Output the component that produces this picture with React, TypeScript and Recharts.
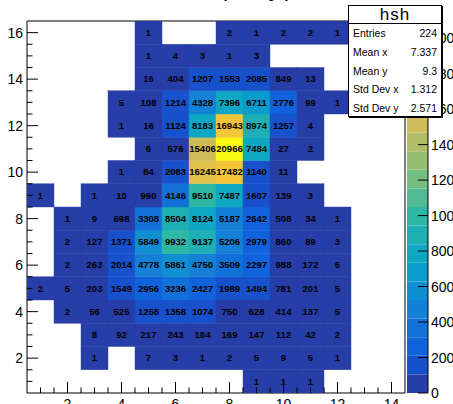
import React from 'react'
import {
  ScatterChart,
  Scatter,
  XAxis,
  YAxis,
  ReferenceArea,
  LabelList,
  BarChart,
  Bar,
} from 'recharts'

// bin contents, one array per y row (x = 1..14)
const row16 = [0, 0, 0, 0, 1, 0, 0, 2, 1, 2, 2, 1, 0, 0]
const row15 = [0, 0, 0, 0, 1, 4, 3, 1, 3, 0, 0, 0, 0, 0]
const row14 = [0, 0, 0, 0, 16, 404, 1207, 1553, 2085, 849, 13, 0, 0, 0]
const row13 = [0, 0, 0, 5, 108, 1214, 4328, 7396, 6711, 2776, 99, 1, 0, 0]
const row12 = [0, 0, 0, 1, 16, 1124, 8183, 16943, 8974, 1257, 4, 0, 0, 0]
const row11 = [0, 0, 0, 0, 6, 576, 15406, 20966, 7484, 27, 2, 0, 0, 0]
const row10 = [0, 0, 0, 1, 84, 2083, 16245, 17482, 1140, 11, 0, 0, 0, 0]
const row9 = [1, 0, 1, 10, 990, 4146, 9510, 7487, 1607, 139, 3, 0, 0, 0]
const row8 = [0, 1, 9, 698, 3308, 8504, 8124, 5187, 2642, 508, 34, 1, 0, 0]
const row7 = [0, 2, 127, 1371, 5849, 9932, 9137, 5206, 2979, 860, 89, 3, 0, 0]
const row6 = [0, 2, 263, 2014, 4778, 5861, 4750, 3509, 2297, 988, 172, 6, 0, 0]
const row5 = [2, 5, 203, 1549, 2956, 3236, 2427, 1989, 1494, 781, 201, 5, 0, 0]
const row4 = [0, 2, 56, 525, 1258, 1358, 1074, 750, 628, 414, 137, 5, 0, 0]
const row3 = [0, 0, 8, 92, 217, 243, 184, 169, 147, 112, 42, 2, 0, 0]
const row2 = [0, 0, 1, 0, 7, 3, 1, 2, 5, 9, 5, 1, 0, 0]
const row1 = [0, 0, 0, 0, 0, 0, 0, 0, 1, 1, 1, 0, 0, 0]

const rows = [row1, row2, row3, row4, row5, row6, row7, row8, row9, row10, row11, row12, row13, row14, row15, row16]

const xTicks = [1, 1.5, 2, 2.5, 3, 3.5, 4, 4.5, 5, 5.5, 6, 6.5, 7, 7.5, 8, 8.5, 9, 9.5, 10, 10.5, 11, 11.5, 12, 12.5, 13, 13.5, 14]
const yTicks = [1, 1.5, 2, 2.5, 3, 3.5, 4, 4.5, 5, 5.5, 6, 6.5, 7, 7.5, 8, 8.5, 9, 9.5, 10, 10.5, 11, 11.5, 12, 12.5, 13, 13.5, 14, 14.5, 15, 15.5, 16]
const zTicks = [0, 2000, 4000, 6000, 8000, 10000, 12000, 14000, 16000, 18000, 20000]

const statLabels = ['Entries', 'Mean x', 'Mean y', 'Std Dev x', 'Std Dev y']
const statValues = ['224', '7.337', '9.3', '1.312', '2.571']

const Z_MAX = 20966
const N_LEVELS = 20

const W = 453
const H = 404
const PLOT_LEFT = 27
const PLOT_TOP = 21
const PLOT_RIGHT = 405
const PLOT_BOTTOM = 393
const CELL_W = (PLOT_RIGHT - PLOT_LEFT) / 14
const CELL_H = (PLOT_BOTTOM - PLOT_TOP) / 16
const BAR_LEFT = 407
const BAR_RIGHT = 428

const FONT = '"Liberation Sans", Arial, Helvetica, sans-serif'

// ROOT kBird palette
const birdStops = [0.0, 0.125, 0.25, 0.375, 0.5, 0.625, 0.75, 0.875, 1.0]
const birdR = [0.2082, 0.0592, 0.078, 0.0232, 0.1802, 0.5301, 0.8186, 0.9956, 0.9764]
const birdG = [0.1664, 0.3599, 0.5041, 0.6419, 0.7178, 0.7492, 0.7328, 0.7862, 0.9832]
const birdB = [0.5293, 0.8684, 0.8385, 0.7914, 0.6425, 0.4662, 0.3499, 0.1968, 0.0539]

function bird(t: number) {
  let i = 0
  while (i < birdStops.length - 2 && t > birdStops[i + 1]) i++
  const f = (t - birdStops[i]) / (birdStops[i + 1] - birdStops[i])
  const c = (a: number[]) => Math.round(255 * (a[i] + (a[i + 1] - a[i]) * f))
  return `rgb(${c(birdR)},${c(birdG)},${c(birdB)})`
}

function levelColor(k: number) {
  const idx = Math.min(254, Math.floor(((k + 0.99) * 255) / N_LEVELS))
  return bird(idx / 255)
}

function cellColor(z: number) {
  const k = Math.min(N_LEVELS - 1, Math.floor(0.01 + (z * N_LEVELS) / Z_MAX))
  return levelColor(k)
}

const cells: { x: number; y: number; z: number }[] = []
rows.forEach((row, yi) => {
  row.forEach((z, xi) => {
    if (z > 0) cells.push({ x: xi + 1, y: yi + 1, z })
  })
})

// colour bar bands
const levelKeys = Array.from({ length: N_LEVELS }, (_, k) => `l${k}`)
const barRow: Record<string, number | string> = { name: 'z' }
levelKeys.forEach((key) => {
  barRow[key] = Z_MAX / N_LEVELS
})

const XTick = (props: any) => {
  const { x, payload } = props
  const v = payload.value
  const major = v % 2 === 0
  return (
    <g>
      <line x1={x} x2={x} y1={PLOT_BOTTOM} y2={PLOT_BOTTOM - (major ? 11 : 5.5)} stroke="#000" />
      {major && (
        <text x={x} y={PLOT_BOTTOM + 16} textAnchor="middle" fontSize={14} fontFamily={FONT} fill="#000">
          {v}
        </text>
      )}
    </g>
  )
}

const YTick = (props: any) => {
  const { y, payload } = props
  const v = payload.value
  const major = v % 2 === 0
  return (
    <g>
      <line x1={PLOT_LEFT} x2={PLOT_LEFT + (major ? 11 : 5.5)} y1={y} y2={y} stroke="#000" />
      {major && (
        <text x={PLOT_LEFT - 4} y={y + 5} textAnchor="end" fontSize={14} fontFamily={FONT} fill="#000">
          {v}
        </text>
      )}
    </g>
  )
}

const ZTick = (props: any) => {
  const { y, payload } = props
  return (
    <g>
      <line x1={BAR_RIGHT - 10} x2={BAR_RIGHT} y1={y} y2={y} stroke="#000" />
      <text x={BAR_RIGHT + 3} y={y + 5} textAnchor="start" fontSize={14} fontFamily={FONT} fill="#000">
        {payload.value}
      </text>
    </g>
  )
}

const Cell2D = (props: any) => {
  const { cx, cy, payload } = props
  const col = cellColor(payload.z)
  return (
    <rect
      x={cx - CELL_W / 2}
      y={cy - CELL_H / 2}
      width={CELL_W}
      height={CELL_H}
      fill={col}
      stroke={col}
      strokeWidth={0.4}
    />
  )
}

export default function App() {
  return (
    <div style={{ position: 'absolute', left: 0, top: 0, width: W, height: H, overflow: 'hidden', background: '#fff', fontFamily: FONT }}>
      <div style={{ position: 'absolute', left: 0, top: 0 }}>
        <ScatterChart width={W} height={H} margin={{ top: PLOT_TOP, right: W - PLOT_RIGHT, bottom: 0, left: 0 }}>
          <Scatter data={cells} shape={<Cell2D />} isAnimationActive={false}>
            <LabelList dataKey="z" position="center" fill="#000" fontSize={9.5} fontWeight="bold" fontFamily={FONT} />
          </Scatter>
          <ReferenceArea x1={0.5} x2={14.5} y1={0.5} y2={16.5} fill="none" fillOpacity={0} stroke="#000" strokeWidth={1} ifOverflow="visible" />
          <XAxis
            type="number"
            dataKey="x"
            domain={[0.5, 14.5]}
            allowDataOverflow
            ticks={xTicks}
            interval={0}
            tick={<XTick />}
            tickLine={false}
            axisLine={false}
            height={H - PLOT_BOTTOM}
          />
          <YAxis
            type="number"
            dataKey="y"
            domain={[0.5, 16.5]}
            allowDataOverflow
            ticks={yTicks}
            interval={0}
            tick={<YTick />}
            tickLine={false}
            axisLine={false}
            width={PLOT_LEFT}
          />
        </ScatterChart>
      </div>
      <div style={{ position: 'absolute', left: 0, top: 0 }}>
        <BarChart
          width={W}
          height={H}
          data={[barRow]}
          barCategoryGap={0}
          barGap={0}
          margin={{ top: PLOT_TOP, right: 0, bottom: H - PLOT_BOTTOM, left: BAR_LEFT }}
        >
          <XAxis dataKey="name" hide />
          <YAxis
            orientation="right"
            type="number"
            domain={[0, Z_MAX]}
            allowDataOverflow
            ticks={zTicks}
            interval={0}
            tick={<ZTick />}
            tickLine={false}
            axisLine={{ stroke: '#000' }}
            width={W - BAR_RIGHT}
          />
          {levelKeys.map((key, k) => (
            <Bar key={key} dataKey={key} stackId="pal" fill={levelColor(k)} isAnimationActive={false} />
          ))}
        </BarChart>
      </div>
      <div
        style={{
          position: 'absolute',
          left: 219,
          top: -24,
          width: 78,
          fontSize: 24,
          lineHeight: '24px',
          textAlign: 'center',
          letterSpacing: 4,
          whiteSpace: 'nowrap',
        }}
      >
        (x, y)
      </div>
      <div
        style={{
          position: 'absolute',
          left: 348,
          top: 5,
          width: 94,
          height: 112,
          boxSizing: 'border-box',
          border: '1px solid #000',
          boxShadow: '1px 1px 0 #000',
          background: '#fff',
        }}
      >
        <div
          style={{
            height: 17,
            borderBottom: '1px solid #000',
            textAlign: 'center',
            fontSize: 17,
            lineHeight: '18px',
            letterSpacing: 1,
          }}
        >
          hsh
        </div>
        {statLabels.map((label, i) => (
          <div
            key={label}
            style={{
              display: 'flex',
              justifyContent: 'space-between',
              height: 18.8,
              lineHeight: '18.8px',
              fontSize: 10.5,
              padding: '0 4px 0 4px',
            }}
          >
            <span>{label}</span>
            <span>{statValues[i]}</span>
          </div>
        ))}
      </div>
    </div>
  )
}
